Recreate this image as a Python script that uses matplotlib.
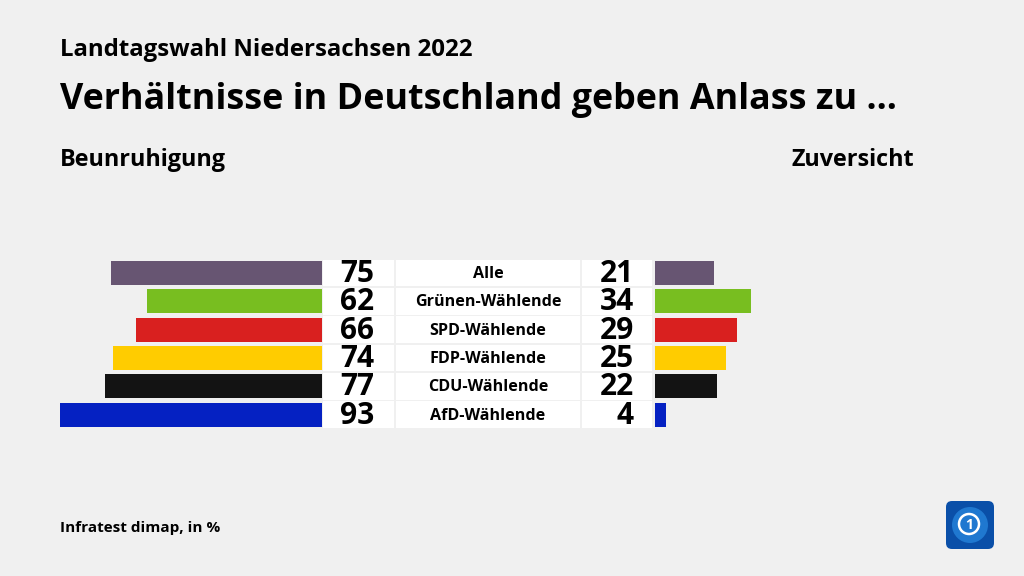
import matplotlib

matplotlib.use("Agg")
import matplotlib.pyplot as plt
from matplotlib.patches import FancyBboxPatch, Circle

plt.rcParams["font.family"] = ["Open Sans", "Lato", "DejaVu Sans"]

groups = ["Alle", "Grünen-Wählende", "SPD-Wählende", "FDP-Wählende", "CDU-Wählende", "AfD-Wählende"]
beunruhigung = [75, 62, 66, 74, 77, 93]
zuversicht = [21, 34, 29, 25, 22, 4]
colors = ["#675572", "#78be20", "#d9201f", "#ffcc00", "#131313", "#0521c2"]

BG = "#f0f0f0"
W, H = 1024, 576
PX = 2.82          # pixels per percentage point
LEFT_END = 322     # right edge of left bars
RIGHT_START = 655  # left edge of right bars
ROW0, ROW_STEP = 273, 28.3
BAR_H = 24

fig = plt.figure(figsize=(W / 100, H / 100), dpi=100, facecolor=BG)
ax = fig.add_axes([0, 0, 1, 1])
ax.set_xlim(0, W)
ax.set_ylim(H, 0)
ax.axis("off")
ax.set_facecolor(BG)

rows = [ROW0 + i * ROW_STEP for i in range(len(groups))]

# white boxes for numbers and labels
for y in rows:
    for x0, x1 in ((323, 394), (396, 580), (582, 652)):
        ax.add_patch(plt.Rectangle((x0, y - 13.2), x1 - x0, 26.6, color="white", lw=0))

ax.barh(rows, [-v * PX for v in beunruhigung], left=LEFT_END, height=BAR_H, color=colors)
ax.barh(rows, [v * PX for v in zuversicht], left=RIGHT_START, height=BAR_H, color=colors)

for y, g, a, b in zip(rows, groups, beunruhigung, zuversicht):
    ax.text(374, y + 1, str(a), ha="right", va="center", fontsize=21.5, fontweight="bold")
    ax.text(634, y + 1, str(b), ha="right", va="center", fontsize=21.5, fontweight="bold")
    ax.text(488, y + 1, g, ha="center", va="center", fontsize=11.6, fontweight="bold")

ax.text(60, 50, "Landtagswahl Niedersachsen 2022", ha="left", va="center",
        fontsize=17.3, fontweight="bold")
ax.text(60, 100, "Verhältnisse in Deutschland geben Anlass zu ...", ha="left", va="center",
        fontsize=25.8, fontweight="bold")
ax.text(60, 160, "Beunruhigung", ha="left", va="center", fontsize=16.8, fontweight="bold")
ax.text(914, 160, "Zuversicht", ha="right", va="center", fontsize=16.8, fontweight="bold")
ax.text(60, 528, "Infratest dimap, in %", ha="left", va="center", fontsize=11,
        fontweight="bold")

# logo
ax.add_patch(FancyBboxPatch((947, 502), 46, 46, boxstyle="round,pad=1,rounding_size=6",
                            fc="#0a4fa8", ec="none"))
ax.add_patch(Circle((970, 525), 18, fc="#1f78d0", ec="none"))
ax.add_patch(Circle((969, 524), 10, fc="none", ec="white", lw=1.8))
ax.text(969, 525, "1", ha="center", va="center", fontsize=10, fontweight="bold", color="white")

fig.savefig("out.png", dpi=100, facecolor=BG)
